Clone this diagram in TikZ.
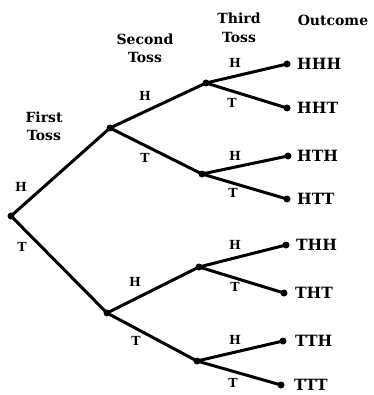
\documentclass[tikz,border=0pt]{standalone}
\usepackage{fontspec}
\setmainfont{DejaVu Serif}
\begin{document}
\begin{tikzpicture}[x=1pt,y=-1pt,
  br/.style={line width=3pt, line cap=round},
  pt/.style={circle, fill=black, inner sep=0pt, minimum size=7pt},
  lf/.style={circle, fill=black, inner sep=0pt, minimum size=7pt},
  hdr/.style={font=\bfseries\fontsize{14}{16}\selectfont, align=center, inner sep=0pt},
  outc/.style={font=\bfseries\fontsize{15.5}{18}\selectfont, anchor=west, inner sep=0pt},
  sm/.style={font=\bfseries\fontsize{12.5}{13}\selectfont, inner sep=0pt}]
\useasboundingbox (0,0) rectangle (373,395);
% nodes
\node[pt] (r) at (11,216) {};
\node[pt] (h) at (110,128) {};
\node[pt] (t) at (107,313) {};
\node[pt] (hh) at (206,83) {};
\node[pt] (ht) at (202,174) {};
\node[pt] (th) at (199,267) {};
\node[pt] (tt) at (197,361) {};
\node[lf] (hhh) at (287,64) {};
\node[lf] (hht) at (287,108) {};
\node[lf] (hth) at (288,156) {};
\node[lf] (htt) at (287,199) {};
\node[lf] (thh) at (286,245) {};
\node[lf] (tht) at (284,293) {};
\node[lf] (tth) at (283,341) {};
\node[lf] (ttt) at (281,385) {};
% branches
\draw[br] (r.center) -- (h.center);
\draw[br] (r.center) -- (t.center);
\draw[br] (h.center) -- (hh.center);
\draw[br] (h.center) -- (ht.center);
\draw[br] (t.center) -- (th.center);
\draw[br] (t.center) -- (tt.center);
\draw[br] (hh.center) -- (hhh.center);
\draw[br] (hh.center) -- (hht.center);
\draw[br] (ht.center) -- (hth.center);
\draw[br] (ht.center) -- (htt.center);
\draw[br] (th.center) -- (thh.center);
\draw[br] (th.center) -- (tht.center);
\draw[br] (tt.center) -- (tth.center);
\draw[br] (tt.center) -- (ttt.center);
% headers
\node[hdr] (h1) at (44,126) {First\\[2pt]Toss};
\node[hdr] (h2) at (145,48) {Second\\[2pt]Toss};
\node[hdr] (h3) at (239,28) {Third\\[3pt]Toss};
\node[hdr] (h4) at (333,20) {Outcome};
% outcomes
\node[outc] (o1) at (297,64) {HHH};
\node[outc] (o2) at (297,108) {HHT};
\node[outc] (o3) at (297,156) {HTH};
\node[outc] (o4) at (297,199) {HTT};
\node[outc] (o5) at (296,245) {THH};
\node[outc] (o6) at (295,293) {THT};
\node[outc] (o7) at (295,341) {TTH};
\node[outc] (o8) at (294,385) {TTT};
% branch labels
\node[sm] (l1) at (21,187) {H};
\node[sm] (l2) at (22,247) {T};
\node[sm] (l3) at (145,96) {H};
\node[sm] (l4) at (145,158) {T};
\node[sm] (l5) at (135,282) {H};
\node[sm] (l6) at (136,341) {T};
\node[sm] (l7) at (235,63) {H};
\node[sm] (l8) at (232,103) {T};
\node[sm] (l9) at (235,156) {H};
\node[sm] (l10) at (233,193) {T};
\node[sm] (l11) at (235,245) {H};
\node[sm] (l12) at (235,287) {T};
\node[sm] (l13) at (235,340) {H};
\node[sm] (l14) at (233,383) {T};
\end{tikzpicture}
\end{document}
